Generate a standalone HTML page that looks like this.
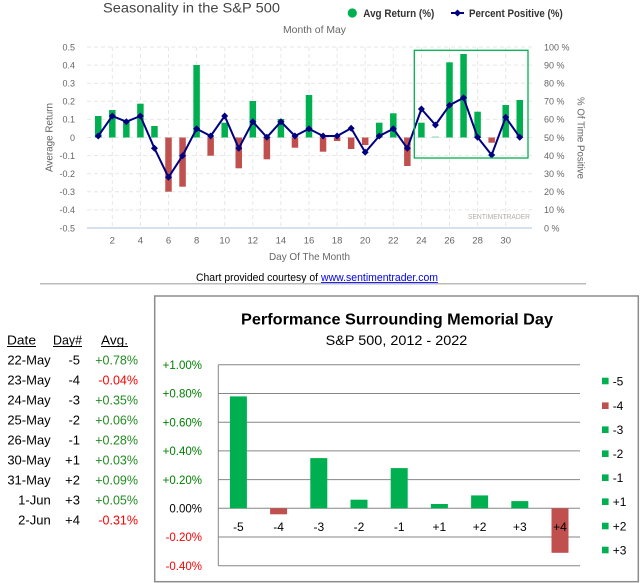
<!DOCTYPE html>
<html><head><meta charset="utf-8"><style>
html,body{margin:0;padding:0;background:#fff;}
svg{display:block;}
text{font-family:"Liberation Sans",Arial,sans-serif;}
</style></head><body>
<svg width="642" height="583" viewBox="0 0 642 583" xmlns="http://www.w3.org/2000/svg">
<rect width="642" height="583" fill="#fff"/>
<!-- ===== TOP CHART ===== -->
<text x="103" y="12.7" font-size="14" fill="#444" textLength="177" lengthAdjust="spacingAndGlyphs">Seasonality in the S&amp;P 500</text>
<text x="283" y="33" font-size="10.5" fill="#666" textLength="63" lengthAdjust="spacingAndGlyphs">Month of May</text>
<!-- legend -->
<circle cx="352.3" cy="13" r="4.6" fill="#00b050"/>
<text x="363.3" y="17" font-size="11" font-weight="bold" fill="#333" textLength="71" lengthAdjust="spacingAndGlyphs">Avg Return (%)</text>
<line x1="451" y1="13" x2="464" y2="13" stroke="#000080" stroke-width="2"/>
<polygon points="457.5,9.5 461,13 457.5,16.5 454,13" fill="#000080"/>
<text x="469" y="17" font-size="11" font-weight="bold" fill="#333" textLength="93.7" lengthAdjust="spacingAndGlyphs">Percent Positive (%)</text>

<!-- horizontal grid -->
<g stroke="#e6e6e6" stroke-width="1" stroke-dasharray="4,3">
<line x1="87" y1="47" x2="532" y2="47"/>
<line x1="87" y1="65.1" x2="532" y2="65.1"/>
<line x1="87" y1="83.2" x2="532" y2="83.2"/>
<line x1="87" y1="101.3" x2="532" y2="101.3"/>
<line x1="87" y1="119.4" x2="532" y2="119.4"/>
<line x1="87" y1="137.5" x2="532" y2="137.5"/>
<line x1="87" y1="155.6" x2="532" y2="155.6"/>
<line x1="87" y1="173.7" x2="532" y2="173.7"/>
<line x1="87" y1="191.8" x2="532" y2="191.8"/>
<line x1="87" y1="209.9" x2="532" y2="209.9"/>
</g>
<!-- vertical grid -->
<g stroke="#e6e6e6" stroke-width="1" stroke-dasharray="4,3">
<line x1="112.3" y1="47" x2="112.3" y2="228"/>
<line x1="140.4" y1="47" x2="140.4" y2="228"/>
<line x1="168.5" y1="47" x2="168.5" y2="228"/>
<line x1="196.6" y1="47" x2="196.6" y2="228"/>
<line x1="224.7" y1="47" x2="224.7" y2="228"/>
<line x1="252.8" y1="47" x2="252.8" y2="228"/>
<line x1="280.9" y1="47" x2="280.9" y2="228"/>
<line x1="309" y1="47" x2="309" y2="228"/>
<line x1="337.1" y1="47" x2="337.1" y2="228"/>
<line x1="365.2" y1="47" x2="365.2" y2="228"/>
<line x1="393.3" y1="47" x2="393.3" y2="228"/>
<line x1="421.4" y1="47" x2="421.4" y2="228"/>
<line x1="449.5" y1="47" x2="449.5" y2="228"/>
<line x1="477.6" y1="47" x2="477.6" y2="228"/>
<line x1="505.7" y1="47" x2="505.7" y2="228"/>
</g>
<line x1="87" y1="228" x2="532" y2="228" stroke="#ccd6eb" stroke-width="1.5"/>

<!-- left tick labels -->
<g font-size="9" fill="#666" text-anchor="end">
<text x="75" y="50.3">0.5</text>
<text x="75" y="68.4">0.4</text>
<text x="75" y="86.5">0.3</text>
<text x="75" y="104.6">0.2</text>
<text x="75" y="122.7">0.1</text>
<text x="75" y="140.8">0</text>
<text x="75" y="158.9">-0.1</text>
<text x="75" y="177">-0.2</text>
<text x="75" y="195.1">-0.3</text>
<text x="75" y="213.2">-0.4</text>
<text x="75" y="231.3">-0.5</text>
</g>
<text transform="translate(52.5,137.5) rotate(-90)" font-size="10.5" fill="#666" text-anchor="middle" textLength="69" lengthAdjust="spacingAndGlyphs">Average Return</text>

<!-- right tick labels -->
<g font-size="9" fill="#666">
<text x="544" y="50.3">100 %</text>
<text x="544" y="68.4">90 %</text>
<text x="544" y="86.5">80 %</text>
<text x="544" y="104.6">70 %</text>
<text x="544" y="122.7">60 %</text>
<text x="544" y="140.8">50 %</text>
<text x="544" y="158.9">40 %</text>
<text x="544" y="177">30 %</text>
<text x="544" y="195.1">20 %</text>
<text x="544" y="213.2">10 %</text>
<text x="544" y="231.3">0 %</text>
</g>
<text transform="translate(577.5,138) rotate(90)" font-size="10.5" fill="#666" text-anchor="middle" textLength="82" lengthAdjust="spacingAndGlyphs">% Of Time Positive</text>

<!-- x tick labels -->
<g font-size="9.5" fill="#666" text-anchor="middle">
<text x="112.3" y="243.5">2</text>
<text x="140.4" y="243.5">4</text>
<text x="168.5" y="243.5">6</text>
<text x="196.6" y="243.5">8</text>
<text x="224.7" y="243.5">10</text>
<text x="252.8" y="243.5">12</text>
<text x="280.9" y="243.5">14</text>
<text x="309" y="243.5">16</text>
<text x="337.1" y="243.5">18</text>
<text x="365.2" y="243.5">20</text>
<text x="393.3" y="243.5">22</text>
<text x="421.4" y="243.5">24</text>
<text x="449.5" y="243.5">26</text>
<text x="477.6" y="243.5">28</text>
<text x="505.7" y="243.5">30</text>
</g>
<text x="269" y="260" font-size="10.5" fill="#666" textLength="81" lengthAdjust="spacingAndGlyphs">Day Of The Month</text>

<!-- watermark -->
<text x="468" y="219" font-size="7.5" fill="#b5aca4" textLength="62" lengthAdjust="spacingAndGlyphs">SENTIMENTRADER</text>

<!-- bars top -->
<g fill="#00b050">
<rect x="95" y="116" width="6.5" height="21.5"/>
<rect x="109.05" y="110" width="6.5" height="27.5"/>
<rect x="123.1" y="121.7" width="6.5" height="15.8"/>
<rect x="137.15" y="103.7" width="6.5" height="33.8"/>
<rect x="151.2" y="126" width="6.5" height="11.5"/>
<rect x="193.35" y="65" width="6.5" height="72.5"/>
<rect x="221.45" y="122.7" width="6.5" height="14.8"/>
<rect x="249.55" y="101" width="6.5" height="36.5"/>
<rect x="277.65" y="119" width="6.5" height="18.5"/>
<rect x="305.75" y="95" width="6.5" height="42.5"/>
<rect x="376" y="122.7" width="6.5" height="14.8"/>
<rect x="390.05" y="113.3" width="6.5" height="24.2"/>
<rect x="418.15" y="122.7" width="6.5" height="14.8"/>
<rect x="446.25" y="62.3" width="6.5" height="75.2"/>
<rect x="460.3" y="54" width="6.5" height="83.5"/>
<rect x="474.35" y="111.7" width="6.5" height="25.8"/>
<rect x="502.45" y="105" width="6.5" height="32.5"/>
<rect x="516.5" y="100" width="6.5" height="37.5"/>
</g>
<rect x="432.2" y="136.5" width="6.5" height="1" fill="#7fd3a4"/>
<g fill="#c0504d">
<rect x="165.25" y="137.5" width="6.5" height="54.2"/>
<rect x="179.3" y="137.5" width="6.5" height="49.2"/>
<rect x="207.4" y="137.5" width="6.5" height="18.2"/>
<rect x="235.5" y="137.5" width="6.5" height="30.8"/>
<rect x="263.6" y="137.5" width="6.5" height="21.8"/>
<rect x="291.7" y="137.5" width="6.5" height="10.2"/>
<rect x="319.8" y="137.5" width="6.5" height="14.2"/>
<rect x="333.85" y="137.5" width="6.5" height="3.5"/>
<rect x="347.9" y="137.5" width="6.5" height="11.5"/>
<rect x="361.95" y="137.5" width="6.5" height="7.5"/>
<rect x="404.1" y="137.5" width="6.5" height="28.5"/>
<rect x="488.4" y="137.5" width="6.5" height="5.2"/>
</g>

<!-- line -->
<polyline fill="none" stroke="#000080" stroke-width="2" stroke-linejoin="round" points="98.25,136 112.3,116 126.35,121.7 140.4,116 154.45,148.3 168.5,177.3 182.55,155.7 196.6,128.7 210.65,136 224.7,116 238.75,148.3 252.8,121.7 266.85,137.3 280.9,121.7 294.95,136 309,128.7 323.05,136 337.1,136 351.15,128.3 365.2,152.3 379.25,136 393.3,128.7 407.35,148.3 421.4,109 435.45,125 449.5,105.3 463.55,97.7 477.6,137.3 491.65,155 505.7,117.3 519.75,137.3"/>
<g fill="#000080">
<polygon points="98.25,132.5 101.75,136 98.25,139.5 94.75,136"/>
<polygon points="112.3,112.5 115.8,116 112.3,119.5 108.8,116"/>
<polygon points="126.35,118.2 129.85,121.7 126.35,125.2 122.85,121.7"/>
<polygon points="140.4,112.5 143.9,116 140.4,119.5 136.9,116"/>
<polygon points="154.45,144.8 157.95,148.3 154.45,151.8 150.95,148.3"/>
<polygon points="168.5,173.8 172,177.3 168.5,180.8 165,177.3"/>
<polygon points="182.55,152.2 186.05,155.7 182.55,159.2 179.05,155.7"/>
<polygon points="196.6,125.2 200.1,128.7 196.6,132.2 193.1,128.7"/>
<polygon points="210.65,132.5 214.15,136 210.65,139.5 207.15,136"/>
<polygon points="224.7,112.5 228.2,116 224.7,119.5 221.2,116"/>
<polygon points="238.75,144.8 242.25,148.3 238.75,151.8 235.25,148.3"/>
<polygon points="252.8,118.2 256.3,121.7 252.8,125.2 249.3,121.7"/>
<polygon points="266.85,133.8 270.35,137.3 266.85,140.8 263.35,137.3"/>
<polygon points="280.9,118.2 284.4,121.7 280.9,125.2 277.4,121.7"/>
<polygon points="294.95,132.5 298.45,136 294.95,139.5 291.45,136"/>
<polygon points="309,125.2 312.5,128.7 309,132.2 305.5,128.7"/>
<polygon points="323.05,132.5 326.55,136 323.05,139.5 319.55,136"/>
<polygon points="337.1,132.5 340.6,136 337.1,139.5 333.6,136"/>
<polygon points="351.15,124.8 354.65,128.3 351.15,131.8 347.65,128.3"/>
<polygon points="365.2,148.8 368.7,152.3 365.2,155.8 361.7,152.3"/>
<polygon points="379.25,132.5 382.75,136 379.25,139.5 375.75,136"/>
<polygon points="393.3,125.2 396.8,128.7 393.3,132.2 389.8,128.7"/>
<polygon points="407.35,144.8 410.85,148.3 407.35,151.8 403.85,148.3"/>
<polygon points="421.4,105.5 424.9,109 421.4,112.5 417.9,109"/>
<polygon points="435.45,121.5 438.95,125 435.45,128.5 431.95,125"/>
<polygon points="449.5,101.8 453,105.3 449.5,108.8 446,105.3"/>
<polygon points="463.55,94.2 467.05,97.7 463.55,101.2 460.05,97.7"/>
<polygon points="477.6,133.8 481.1,137.3 477.6,140.8 474.1,137.3"/>
<polygon points="491.65,151.5 495.15,155 491.65,158.5 488.15,155"/>
<polygon points="505.7,113.8 509.2,117.3 505.7,120.8 502.2,117.3"/>
<polygon points="519.75,133.8 523.25,137.3 519.75,140.8 516.25,137.3"/>
</g>

<!-- highlight box -->
<rect x="414.3" y="50.3" width="113.7" height="107.7" fill="none" stroke="#00b050" stroke-width="1.3"/>

<!-- courtesy -->
<text x="196" y="281" font-size="11" fill="#000" textLength="122" lengthAdjust="spacingAndGlyphs">Chart provided courtesy of</text>
<text x="321" y="281" font-size="11" fill="#0000ee" textLength="117" lengthAdjust="spacingAndGlyphs">www.sentimentrader.com</text>
<line x1="321" y1="282.6" x2="438" y2="282.6" stroke="#0000ee" stroke-width="0.9"/>
<line x1="40" y1="283.8" x2="586" y2="283.8" stroke="#bbbbbb" stroke-width="1.5"/>

<!-- ===== TABLE ===== -->
<g font-size="13" fill="#000">
<text x="7" y="344.5" textLength="29" lengthAdjust="spacingAndGlyphs">Date</text>
<line x1="7" y1="346.5" x2="36" y2="346.5" stroke="#000" stroke-width="1"/>
<text x="53" y="344.5" textLength="29" lengthAdjust="spacingAndGlyphs">Day#</text>
<line x1="53" y1="346.5" x2="82" y2="346.5" stroke="#000" stroke-width="1"/>
<text x="101" y="344.5" textLength="27" lengthAdjust="spacingAndGlyphs">Avg.</text>
<line x1="101" y1="346.5" x2="128" y2="346.5" stroke="#000" stroke-width="1"/>
</g>
<g font-size="13" fill="#000" text-anchor="end">
<text x="50.7" y="364.7">22-May</text>
<text x="50.7" y="384.7">23-May</text>
<text x="50.7" y="404.7">24-May</text>
<text x="50.7" y="424.7">25-May</text>
<text x="50.7" y="444.7">26-May</text>
<text x="50.7" y="464.7">30-May</text>
<text x="50.7" y="484.7">31-May</text>
<text x="50.7" y="504.7">1-Jun</text>
<text x="50.7" y="524.7">2-Jun</text>
<text x="80" y="364.7">-5</text>
<text x="80" y="384.7">-4</text>
<text x="80" y="404.7">-3</text>
<text x="80" y="424.7">-2</text>
<text x="80" y="444.7">-1</text>
<text x="80" y="464.7">+1</text>
<text x="80" y="484.7">+2</text>
<text x="80" y="504.7">+3</text>
<text x="80" y="524.7">+4</text>
</g>
<g font-size="12.5" text-anchor="end">
<text x="138" y="364.7" fill="#228b22">+0.78%</text>
<text x="138" y="384.7" fill="#ff0000">-0.04%</text>
<text x="138" y="404.7" fill="#228b22">+0.35%</text>
<text x="138" y="424.7" fill="#228b22">+0.06%</text>
<text x="138" y="444.7" fill="#228b22">+0.28%</text>
<text x="138" y="464.7" fill="#228b22">+0.03%</text>
<text x="138" y="484.7" fill="#228b22">+0.09%</text>
<text x="138" y="504.7" fill="#228b22">+0.05%</text>
<text x="138" y="524.7" fill="#ff0000">-0.31%</text>
</g>

<!-- ===== BOTTOM CHART ===== -->
<rect x="154.7" y="296" width="483.6" height="285.7" fill="#fff" stroke="#8c8c8c" stroke-width="1.5"/>
<text x="397" y="324.3" font-size="16" font-weight="bold" fill="#000" text-anchor="middle" textLength="312" lengthAdjust="spacingAndGlyphs">Performance Surrounding Memorial Day</text>
<text x="396.5" y="345" font-size="14" fill="#000" text-anchor="middle" textLength="141.6" lengthAdjust="spacingAndGlyphs">S&amp;P 500,  2012 - 2022</text>

<g stroke="#868686" stroke-width="1">
<line x1="218.3" y1="364.8" x2="580" y2="364.8"/>
<line x1="218.3" y1="393.5" x2="580" y2="393.5"/>
<line x1="218.3" y1="422.2" x2="580" y2="422.2"/>
<line x1="218.3" y1="450.9" x2="580" y2="450.9"/>
<line x1="218.3" y1="479.6" x2="580" y2="479.6"/>
<line x1="218.3" y1="508.3" x2="580" y2="508.3"/>
<line x1="218.3" y1="537" x2="580" y2="537"/>
<line x1="218.3" y1="565.7" x2="580" y2="565.7"/>
<line x1="218.3" y1="364.8" x2="218.3" y2="565.7"/>
</g>

<g font-size="11.5" text-anchor="end">
<text x="202" y="369" fill="#008000">+1.00%</text>
<text x="202" y="397.7" fill="#008000">+0.80%</text>
<text x="202" y="426.4" fill="#008000">+0.60%</text>
<text x="202" y="455.1" fill="#008000">+0.40%</text>
<text x="202" y="483.8" fill="#008000">+0.20%</text>
<text x="202" y="512.5" fill="#000">0.00%</text>
<text x="202" y="541.2" fill="#ff0000">-0.20%</text>
<text x="202" y="569.9" fill="#ff0000">-0.40%</text>
</g>

<g fill="#00b050">
<rect x="229.9" y="396.4" width="17" height="111.9"/>
<rect x="310.3" y="458.1" width="17" height="50.2"/>
<rect x="350.5" y="499.7" width="17" height="8.6"/>
<rect x="390.7" y="468.1" width="17" height="40.2"/>
<rect x="430.9" y="504" width="17" height="4.3"/>
<rect x="471.1" y="495.4" width="17" height="12.9"/>
<rect x="511.3" y="501.1" width="17" height="7.2"/>
</g>
<g fill="#c0504d">
<rect x="270.1" y="508.3" width="17" height="6"/>
<rect x="551.5" y="508.3" width="17" height="44.5"/>
</g>

<g font-size="12" fill="#000" text-anchor="middle">
<text x="238.4" y="531">-5</text>
<text x="278.6" y="531">-4</text>
<text x="318.8" y="531">-3</text>
<text x="359" y="531">-2</text>
<text x="399.2" y="531">-1</text>
<text x="439.4" y="531">+1</text>
<text x="479.6" y="531">+2</text>
<text x="519.8" y="531">+3</text>
<text x="560" y="531">+4</text>
</g>

<!-- legend bottom -->
<g>
<rect x="602" y="377.7" width="6.6" height="6.6" fill="#00b050"/>
<rect x="602" y="402.4" width="6.6" height="6.6" fill="#c0504d"/>
<rect x="602" y="426.4" width="6.6" height="6.6" fill="#00b050"/>
<rect x="602" y="450.4" width="6.6" height="6.6" fill="#00b050"/>
<rect x="602" y="474.4" width="6.6" height="6.6" fill="#00b050"/>
<rect x="602" y="498.4" width="6.6" height="6.6" fill="#00b050"/>
<rect x="602" y="522.7" width="6.6" height="6.6" fill="#00b050"/>
<rect x="602" y="546.7" width="6.6" height="6.6" fill="#00b050"/>
</g>
<g font-size="12" fill="#000">
<text x="612.7" y="385.3">-5</text>
<text x="612.7" y="410">-4</text>
<text x="612.7" y="434">-3</text>
<text x="612.7" y="458">-2</text>
<text x="612.7" y="482">-1</text>
<text x="612.7" y="506">+1</text>
<text x="612.7" y="530.3">+2</text>
<text x="612.7" y="554.3">+3</text>
</g>
</svg>
</body></html>
